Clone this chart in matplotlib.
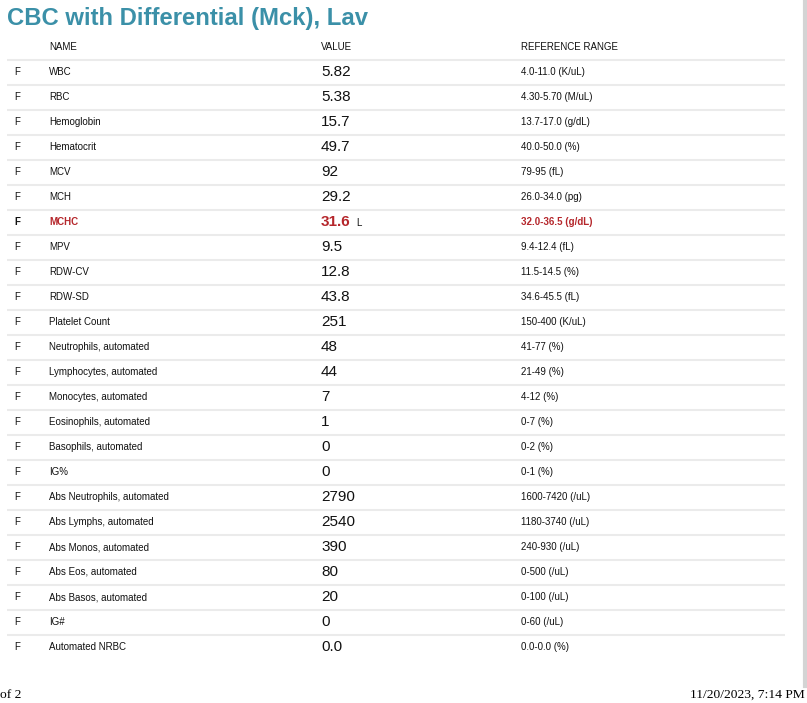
import matplotlib.pyplot as plt

plt.rcParams["font.family"] = ["Liberation Sans", "DejaVu Sans"]

title = "CBC with Differential (Mck), Lav"
headers = ["NAME", "VALUE", "REFERENCE RANGE"]

names = [
    "WBC", "RBC", "Hemoglobin", "Hematocrit", "MCV", "MCH", "MCHC", "MPV",
    "RDW-CV", "RDW-SD", "Platelet Count", "Neutrophils, automated",
    "Lymphocytes, automated", "Monocytes, automated", "Eosinophils, automated",
    "Basophils, automated", "IG%", "Abs Neutrophils, automated",
    "Abs Lymphs, automated", "Abs Monos, automated", "Abs Eos, automated",
    "Abs Basos, automated", "IG#", "Automated NRBC",
]
values = [
    "5.82", "5.38", "15.7", "49.7", "92", "29.2", "31.6", "9.5",
    "12.8", "43.8", "251", "48", "44", "7", "1", "0", "0",
    "2790", "2540", "390", "80", "20", "0", "0.0",
]
flags = ["", "", "", "", "", "", "L", "", "", "", "", "", "", "", "", "",
         "", "", "", "", "", "", "", ""]
ranges = [
    "4.0-11.0 (K/uL)", "4.30-5.70 (M/uL)", "13.7-17.0 (g/dL)",
    "40.0-50.0 (%)", "79-95 (fL)", "26.0-34.0 (pg)", "32.0-36.5 (g/dL)",
    "9.4-12.4 (fL)", "11.5-14.5 (%)", "34.6-45.5 (fL)", "150-400 (K/uL)",
    "41-77 (%)", "21-49 (%)", "4-12 (%)", "0-7 (%)", "0-2 (%)", "0-1 (%)",
    "1600-7420 (/uL)", "1180-3740 (/uL)", "240-930 (/uL)", "0-500 (/uL)",
    "0-100 (/uL)", "0-60 (/uL)", "0.0-0.0 (%)",
]
footer_left = "of 2"
footer_right = "11/20/2023, 7:14 PM"

W, H = 807, 703
fig = plt.figure(figsize=(W / 100, H / 100), dpi=100)
ax = fig.add_axes([0, 0, 1, 1])
ax.set_xlim(0, W)
ax.set_ylim(H, 0)
ax.axis("off")

teal = "#3b90a8"
red = "#b5262b"
line_col = "#ebebeb"
x_f, x_name, x_val, x_rng = 14, 49, 321, 521
row0, step = 72, 25

ax.text(7, 18, title, fontsize=17.2, fontweight="bold", color=teal, va="center")

for x, h in zip([x_name, x_val, x_rng], headers):
    ax.text(x, 47, h, fontsize=7, va="center", color="#111111")

for i, (n, v, fl, r) in enumerate(zip(names, values, flags, ranges)):
    y = row0 + i * step
    ax.plot([7, 785], [y - 12.5, y - 12.5], color=line_col, lw=1.5,
            solid_capstyle="butt")
    abnormal = fl != ""
    col = red if abnormal else "#111111"
    wt = "bold" if abnormal else "normal"
    ax.text(x_f, y, "F", fontsize=7, va="center", color="#111111", fontweight=wt)
    ax.text(x_name, y, n, fontsize=7, va="center", color=col, fontweight=wt)
    ax.text(x_val, y, v, fontsize=11, va="center", color=col, fontweight=wt)
    if abnormal:
        ax.text(x_val + 35, y + 1, fl, fontsize=7, va="center", color="#111111")
    ax.text(x_rng, y, r, fontsize=7, va="center", color=col, fontweight=wt)

# right page edge
ax.plot([804.5, 804.5], [0, 686], color="#d4d4d4", lw=3)

ax.text(0, 695, footer_left, fontsize=9.7, family="Liberation Serif", va="center")
ax.text(805, 695, footer_right, fontsize=9.7, family="Liberation Serif",
        va="center", ha="right")

fig.savefig("out.png", dpi=100)
